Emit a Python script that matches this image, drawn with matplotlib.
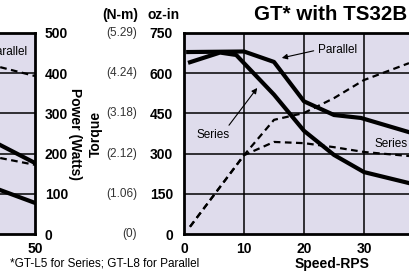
import matplotlib
matplotlib.use('Agg')
import matplotlib.pyplot as plt
from matplotlib.transforms import blended_transform_factory

plt.rcParams['font.family'] = ['Liberation Sans', 'DejaVu Sans']

# right chart: GT* with TS32B (speed in rps, torque in oz-in, power in watts)
ser_tq_rps = [1, 6, 8.7, 15, 20, 25, 30, 37.5]
ser_tq = [641, 677, 668, 520, 385, 295, 231, 190]
par_tq_rps = [0.7, 10, 15, 20, 25, 29.5, 37.5]
par_tq = [679, 681, 642, 495, 444, 433, 380]
ser_pw_rps = [1, 10, 15, 20, 25, 30, 37.5]
ser_pw = [18, 196, 229, 226, 216, 204, 194]
par_pw_rps = [1, 10, 15, 20, 25, 30, 37.5]
par_pw = [18, 196, 284, 301, 338, 383, 425]

# left chart: only its right end shows in the picture
left_rps = [44.2, 50]
left_par_tq = [332, 265]
left_ser_tq = [164, 116]
left_par_pw = [415, 393]
left_ser_pw = [189, 172]

oz_ticks = [0, 150, 300, 450, 600, 750]
nm_labels = ['(0)', '(1.06)', '(2.12)', '(3.18)', '(4.24)', '(5.29)']
pw_ticks = [0, 100, 200, 300, 400, 500]
rps_grid = [10, 20, 30, 40]
left_rps_labels = [50]
right_rps_labels = [0, 10, 20, 30]

W, H = 409, 279
bg = '#dfdcec'
solid_lw = 3.0
dash_lw = 1.6

fig = plt.figure(figsize=(W / 100, H / 100), dpi=100)


def px_axes(left, top, right, bottom):
    return fig.add_axes([left / W, 1 - bottom / H, (right - left) / W, (bottom - top) / H])


def style(ax, xlabels):
    ax.set_facecolor(bg)
    ax.set_xlim(0, 50)
    ax.set_ylim(0, 750)
    ax.set_xticks(xlabels)
    ax.set_xticklabels([str(v) for v in xlabels], fontweight='bold')
    ax.set_yticks(oz_ticks)
    for x in rps_grid:
        ax.axvline(x, color='black', lw=1.1, zorder=0.5)
    for y in oz_ticks[1:-1]:
        ax.axhline(y, color='black', lw=1.1, zorder=0.5)
    for s in ax.spines.values():
        s.set_linewidth(2)
    ax.tick_params(length=0, labelsize=10, pad=6)


# left chart
axl = px_axes(-265, 33, 35, 234)
style(axl, left_rps_labels)
axl.set_yticklabels([])
axl.plot(left_rps, left_par_tq, color='black', lw=solid_lw)
axl.plot(left_rps, left_ser_tq, color='black', lw=solid_lw)
axlp = axl.twinx()
axlp.set_ylim(0, 500)
axlp.set_yticks(pw_ticks)
axlp.tick_params(length=0, labelsize=10, pad=7)
for lab in axlp.get_yticklabels():
    lab.set_fontweight('bold')
for s in axlp.spines.values():
    s.set_visible(False)
axlp.plot(left_rps, left_par_pw, color='black', lw=dash_lw, dashes=(3, 2))
axlp.plot(left_rps, left_ser_pw, color='black', lw=dash_lw, dashes=(3, 2))
axl.text(48.7, 679, 'Parallel', ha='right', va='center', fontsize=8.5)

# right chart
axr = px_axes(184, 33, 484, 234)
style(axr, right_rps_labels)
axr.set_yticklabels([str(v) for v in oz_ticks], fontweight='bold')
axr.tick_params(axis='y', pad=8)
axr.plot(par_tq_rps, par_tq, color='black', lw=solid_lw)
axr.plot(ser_tq_rps, ser_tq, color='black', lw=solid_lw)
axrp = axr.twinx()
axrp.set_ylim(0, 500)
axrp.set_yticks([])
for s in axrp.spines.values():
    s.set_visible(False)
axrp.plot(par_pw_rps, par_pw, color='black', lw=dash_lw, dashes=(3, 2))
axrp.plot(ser_pw_rps, ser_pw, color='black', lw=dash_lw, dashes=(3, 2))

tr = blended_transform_factory(axr.transAxes, axr.transData)
for v, lab in zip(oz_ticks, nm_labels):
    axr.text(-47 / 300, v, lab, transform=tr, ha='right', va='center',
             fontsize=8.5, color='#333333')

arrow = dict(arrowstyle='-|>', color='black', lw=0.8, mutation_scale=8,
             shrinkA=1, shrinkB=0)
axr.annotate('Parallel', xy=(16.3, 657), xytext=(22.3, 687), ha='left', va='center',
             fontsize=8.5, arrowprops=dict(arrow, relpos=(0, 0.5)))
axr.annotate('Series', xy=(12.2, 545), xytext=(4.8, 369), ha='center', va='center',
             fontsize=8.5, arrowprops=dict(arrow, relpos=(0.9, 1.0)))
axr.text(31.8, 336, 'Series', ha='left', va='center', fontsize=8.5)

# headers and axis titles
fig.text(120 / W, 1 - 15 / H, '(N-m)', ha='center', va='center', fontsize=10, fontweight='bold')
fig.text(164 / W, 1 - 15 / H, 'oz-in', ha='center', va='center', fontsize=10, fontweight='bold')
fig.text(254 / W, 1 - 15 / H, 'GT* with TS32B', ha='left', va='center', fontsize=14.8, fontweight='bold')
fig.text(75 / W, 1 - 134 / H, 'Power (Watts)', rotation=270, ha='center', va='center',
         fontsize=10, fontweight='bold')
fig.text(96 / W, 1 - 134 / H, 'Torque', rotation=90, ha='center', va='center',
         fontsize=10, fontweight='bold')
fig.text(332 / W, 1 - 264 / H, 'Speed-RPS', ha='center', va='center', fontsize=10, fontweight='bold')
fig.text(105 / W, 1 - 264 / H, '*GT-L5 for Series; GT-L8 for Parallel', ha='center', va='center',
         fontsize=8.5)

fig.savefig('out.png', dpi=100)
